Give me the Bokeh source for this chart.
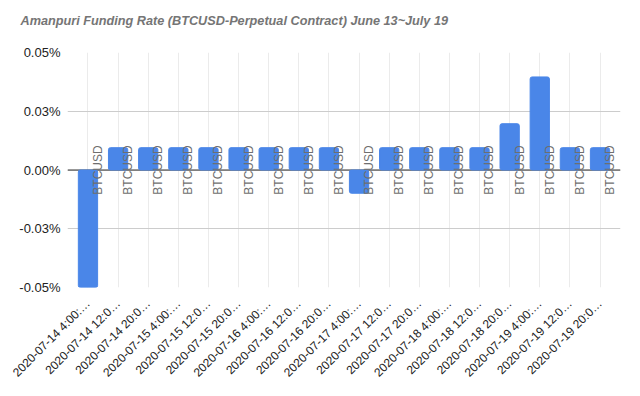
import math
from bokeh.plotting import figure
from bokeh.models import FactorRange, Range1d, FixedTicker, PrintfTickFormatter, Span, ColumnDataSource, Label
from bokeh.transform import dodge
from bokeh.core.properties import value
from bokeh.embed import file_html
from bokeh.resources import INLINE

title_text = "Amanpuri Funding Rate (BTCUSD-Perpetual Contract) June 13~July 19"

# category labels as displayed (truncated) on the chart
categories = [
    "2020-07-14 4:00:…", "2020-07-14 12:0…", "2020-07-14 20:0…",
    "2020-07-15 4:00:…", "2020-07-15 12:0…", "2020-07-15 20:0…",
    "2020-07-16 4:00:…", "2020-07-16 12:0…", "2020-07-16 20:0…",
    "2020-07-17 4:00:…", "2020-07-17 12:0…", "2020-07-17 20:0…",
    "2020-07-18 4:00:…", "2020-07-18 12:0…", "2020-07-18 20:0…",
    "2020-07-19 4:00:…", "2020-07-19 12:0…", "2020-07-19 20:0…",
]
# funding rate in percent
rates = [
    -0.05, 0.0095, 0.0095,
    0.0095, 0.0095, 0.0095,
    0.0095, 0.0095, 0.0095,
    -0.0099, 0.0095, 0.0095,
    0.0095, 0.0095, 0.0197,
    0.0396, 0.0095, 0.0095,
]
series_name = "BTCUSD"
y_ticks = [-0.05, -0.025, 0.0, 0.025, 0.05]

src = ColumnDataSource(dict(cat=categories, rate=rates, label=[series_name] * len(categories)))

H = 388
p = figure(
    x_range=FactorRange(factors=categories, range_padding=0.02),
    y_range=Range1d(-0.05, 0.05),
    width=624, height=H,
    output_backend="svg", toolbar_location=None,
    min_border_left=67, min_border_right=4, min_border_top=52, min_border_bottom=101,
)
p.outline_line_color = None
p.background_fill_color = "white"
p.border_fill_color = "white"

# title drawn as a label in the panel above the plot frame
p.add_layout(Label(
    x=-47, y=32, x_units="screen", y_units="screen",
    text=title_text, text_align="left", text_baseline="middle",
    text_font="Liberation Sans", text_font_size="12.7px",
    text_font_style="bold italic", text_color="#757575",
), "above")

# grids
p.xgrid.grid_line_color = "#ebebeb"
p.ygrid.grid_line_color = "#cccccc"
p.yaxis.ticker = FixedTicker(ticks=y_ticks)
p.yaxis.formatter = PrintfTickFormatter(format="%.2f%%")

for ax in (p.xaxis, p.yaxis):
    ax.axis_line_color = None
    ax.major_tick_line_color = None
    ax.minor_tick_line_color = None
    ax.major_tick_out = 0
    ax.major_tick_in = 0
    ax.major_label_text_font = "Liberation Sans"
    ax.major_label_text_color = "#222222"

p.yaxis.major_label_text_font_size = "13px"
p.yaxis.major_label_standoff = 7
p.xaxis.major_label_text_font_size = "12px"
p.xaxis.major_label_orientation = math.pi / 4
p.xaxis.major_label_standoff = 14

zero = Span(location=0, dimension="width", line_color="#333333", line_width=1, level="underlay")
p.add_layout(zero)

p.vbar(x="cat", top="rate", bottom=0, width=0.64, source=src,
       fill_color="#4a86e8", line_color="#4a86e8", border_radius=2)

p.text(x=dodge("cat", 0.33, range=p.x_range), y=0, text="label", source=src,
       angle=math.pi / 2, text_align="center", text_baseline="middle",
       text_font=value("Liberation Sans"), text_font_size="12px", text_color="#6f6f6f")

open("out.html", "w").write(file_html(p, INLINE))
